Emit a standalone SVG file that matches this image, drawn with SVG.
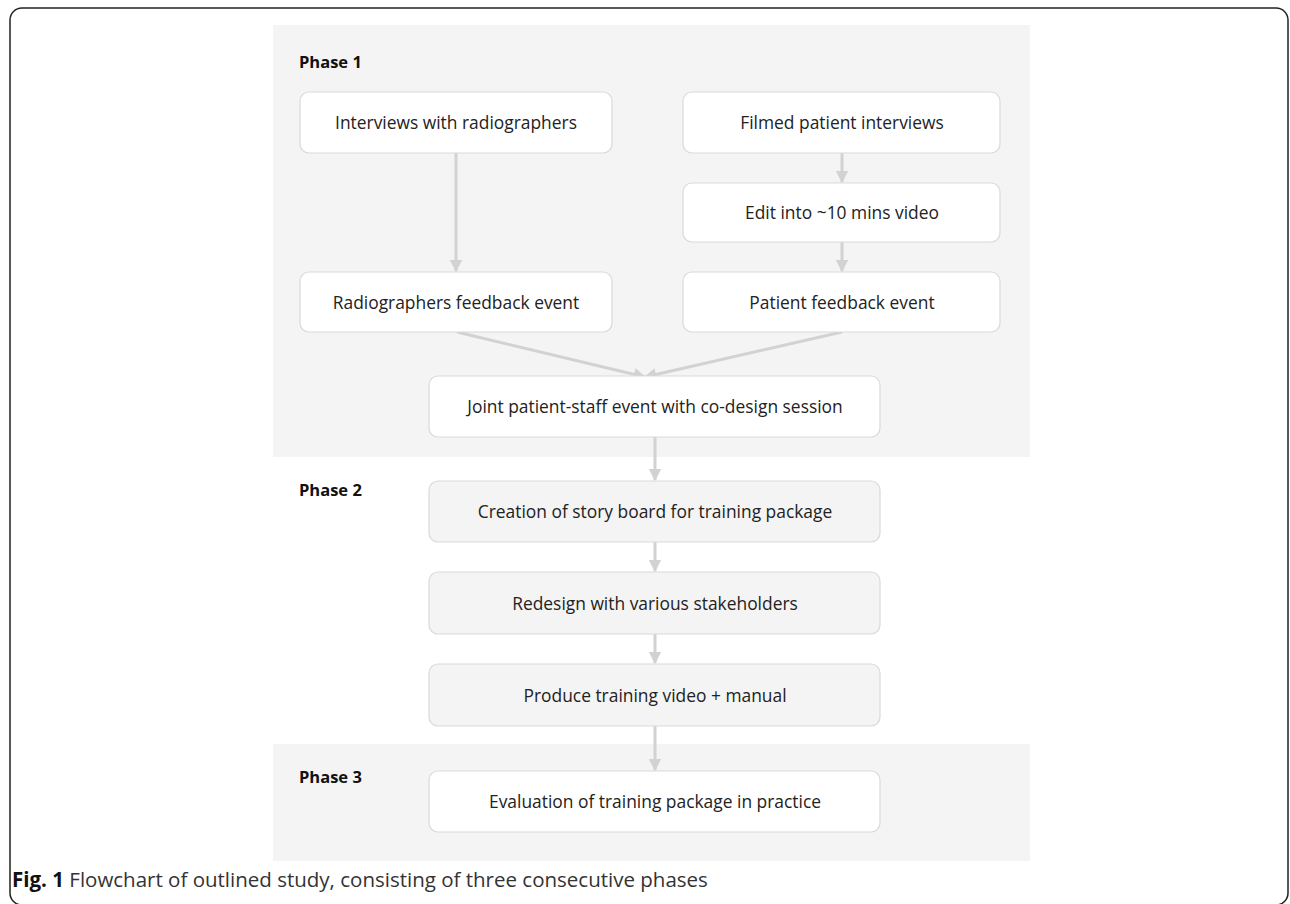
<svg xmlns="http://www.w3.org/2000/svg" width="1290" height="904" viewBox="0 0 1290 904">
<defs>
<style>
.bg{fill:#f4f4f4}
.box{fill:#ffffff;stroke:#d9d9d9;stroke-width:1.2}
.gbox{fill:#f4f4f4;stroke:#d9d9d9;stroke-width:1.2}
.t{font-family:"Open Sans","Liberation Sans",sans-serif;font-size:17.4px;fill:#222;text-anchor:middle}
.ph{font-family:"Open Sans","Liberation Sans",sans-serif;font-size:16.5px;font-weight:bold;fill:#111}
.cap{font-family:"Open Sans","Liberation Sans",sans-serif;font-size:20.5px;fill:#333}
.c{stroke:#d2d2d2;stroke-width:3;fill:none;marker-end:url(#ah)}
</style>
<marker id="ah" viewBox="0 0 10 10" refX="9" refY="5" markerWidth="4.2" markerHeight="4.2" orient="auto" markerUnits="strokeWidth">
<path d="M0,0 L10,5 L0,10 Z" fill="#d2d2d2"/>
</marker>
</defs>
<rect x="10" y="8" width="1278" height="897" rx="12" fill="none" stroke="#222" stroke-width="1.5"/>
<rect class="bg" x="273" y="25" width="757" height="432"/>
<rect class="bg" x="273" y="744" width="757" height="117"/>
<text class="ph" x="299" y="68">Phase 1</text>
<text class="ph" x="299" y="496">Phase 2</text>
<text class="ph" x="299" y="783">Phase 3</text>
<g id="connectors">
<line class="c" x1="456" y1="153" x2="456" y2="271"/>
<line class="c" x1="842" y1="153" x2="842" y2="182"/>
<line class="c" x1="842" y1="242" x2="842" y2="271"/>
<line class="c" x1="457" y1="332" x2="645" y2="377"/>
<line class="c" x1="842" y1="332" x2="645" y2="377"/>
<line class="c" x1="655" y1="437" x2="655" y2="480"/>
<line class="c" x1="655" y1="542" x2="655" y2="571"/>
<line class="c" x1="655" y1="634" x2="655" y2="663"/>
<line class="c" x1="655" y1="726" x2="655" y2="770"/>
</g>
<g id="n1"><rect class="box" x="300" y="92" width="312" height="61" rx="9"/><text class="t" x="456" y="129">Interviews with radiographers</text></g>
<g id="n2"><rect class="box" x="683" y="92" width="317" height="61" rx="9"/><text class="t" x="842" y="129">Filmed patient interviews</text></g>
<g id="n3"><rect class="box" x="683" y="183" width="317" height="59" rx="9"/><text class="t" x="842" y="219">Edit into ~10 mins video</text></g>
<g id="n4"><rect class="box" x="300" y="272" width="312" height="60" rx="9"/><text class="t" x="456" y="309">Radiographers feedback event</text></g>
<g id="n5"><rect class="box" x="683" y="272" width="317" height="60" rx="9"/><text class="t" x="842" y="309">Patient feedback event</text></g>
<g id="n6"><rect class="box" x="429" y="376" width="451" height="61" rx="9"/><text class="t" x="655" y="413">Joint patient-staff event with co-design session</text></g>
<g id="n7"><rect class="gbox" x="429" y="481" width="451" height="61" rx="9"/><text class="t" x="655" y="518">Creation of story board for training package</text></g>
<g id="n8"><rect class="gbox" x="429" y="572" width="451" height="62" rx="9"/><text class="t" x="655" y="610">Redesign with various stakeholders</text></g>
<g id="n9"><rect class="gbox" x="429" y="664" width="451" height="62" rx="9"/><text class="t" x="655" y="702">Produce training video + manual</text></g>
<g id="n10"><rect class="box" x="429" y="771" width="451" height="61" rx="9"/><text class="t" x="655" y="808">Evaluation of training package in practice</text></g>
<text class="cap" x="12" y="887"><tspan font-weight="bold" fill="#111">Fig. 1</tspan> Flowchart of outlined study, consisting of three consecutive phases</text>
</svg>
